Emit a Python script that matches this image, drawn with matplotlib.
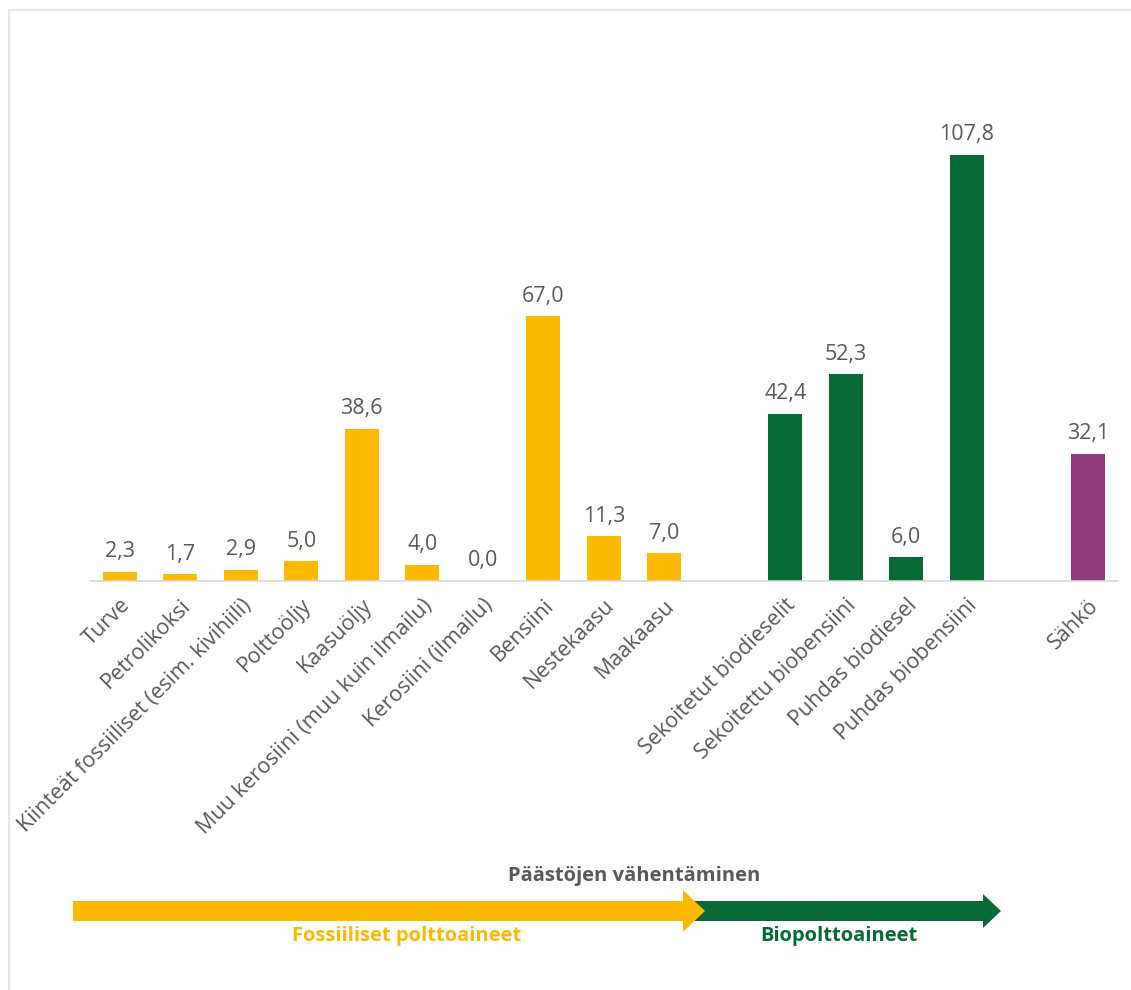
import numpy as np
import matplotlib.pyplot as plt
from matplotlib.patches import FancyArrow
from matplotlib.lines import Line2D

plt.rcParams['font.family'] = ['Open Sans', 'DejaVu Sans']

# Fuel categories, grouped; empty slots separate the groups
fossil_names = ["Turve", "Petrolikoksi", "Kiinteät fossiiliset (esim. kivihiili)",
                "Polttoöljy", "Kaasuöljy", "Muu kerosiini (muu kuin ilmailu)",
                "Kerosiini (ilmailu)", "Bensiini", "Nestekaasu", "Maakaasu"]
fossil_vals = [2.3, 1.7, 2.9, 5.0, 38.6, 4.0, 0.0, 67.0, 11.3, 7.0]

bio_names = ["Sekoitetut biodieselit", "Sekoitettu biobensiini",
             "Puhdas biodiesel", "Puhdas biobensiini"]
bio_vals = [42.4, 52.3, 6.0, 107.8]

elec_names = ["Sähkö"]
elec_vals = [32.1]

YELLOW = "#FBBA00"
GREEN = "#076A35"
PURPLE = "#913A7C"
GRAY = "#595959"

W, H = 1131, 990
fig = plt.figure(figsize=(W / 100, H / 100), dpi=100)

# axes placed in pixel terms: baseline at y=581, ylim 0..120
ax_left, ax_right = 89.5, 1118
ax_bottom = 581
ymax = 120
px_per_unit = 3.95
ax_top = ax_bottom - ymax * px_per_unit
ax = fig.add_axes([ax_left / W, 1 - ax_bottom / H,
                   (ax_right - ax_left) / W, (ax_bottom - ax_top) / H])

x_fossil = np.arange(len(fossil_names))
x_bio = np.arange(len(bio_names)) + len(fossil_names) + 1
x_elec = np.arange(len(elec_names)) + x_bio[-1] + 2

bw = 0.56
groups = [(x_fossil, fossil_vals, YELLOW),
          (x_bio, bio_vals, GREEN),
          (x_elec, elec_vals, PURPLE)]
for xs, vals, col in groups:
    bars = ax.bar(xs, vals, width=bw, color=col, zorder=2)
    for b, v in zip(bars, vals):
        ax.annotate(f"{v:.1f}".replace(".", ","), (b.get_x() + b.get_width() / 2, v),
                    xytext=(0, 7), textcoords="offset points",
                    ha="center", va="bottom", fontsize=15.5, color=GRAY)

ax.set_xlim(-0.5, x_elec[-1] + 0.5)
ax.set_ylim(0, ymax)

ticks = np.concatenate([x_fossil, x_bio, x_elec])
labels = fossil_names + bio_names + elec_names
ax.set_xticks(ticks)
ax.set_xticklabels(labels, rotation=45, ha="right", va="top",
                   rotation_mode="anchor", fontsize=15.5, color=GRAY)
ax.tick_params(axis="x", length=0, pad=10)
ax.set_yticks([])
for s in ["top", "right", "left"]:
    ax.spines[s].set_visible(False)
ax.spines["bottom"].set_color("#D9D9D9")
ax.spines["bottom"].set_linewidth(1.2)

# arrows below the chart, in figure pixel coordinates
overlay = fig.add_axes([0, 0, 1, 1], zorder=5)
overlay.set_xlim(0, W)
overlay.set_ylim(H, 0)
overlay.axis("off")
overlay.patch.set_alpha(0)

overlay.add_patch(FancyArrow(693, 911, 290, 0, width=20, head_width=34,
                             head_length=18, length_includes_head=False,
                             color=GREEN, lw=0))
overlay.add_patch(FancyArrow(73, 911, 610, 0, width=20, head_width=42,
                             head_length=22, length_includes_head=False,
                             color=YELLOW, lw=0))

overlay.text(634, 876, "Päästöjen vähentäminen", ha="center", va="center",
             fontsize=14.5, fontweight="bold", color=GRAY)
overlay.text(407, 936, "Fossiiliset polttoaineet", ha="center", va="center",
             fontsize=14.5, fontweight="bold", color=YELLOW)
overlay.text(839, 936, "Biopolttoaineet", ha="center", va="center",
             fontsize=14.5, fontweight="bold", color=GREEN)

# thin frame at left and top
overlay.add_line(Line2D([9, 9], [10, H], color="#E6E6E6", lw=1.5))
overlay.add_line(Line2D([9, W], [10, 10], color="#E6E6E6", lw=1.5))

fig.savefig("out.png", dpi=100, facecolor="white")
